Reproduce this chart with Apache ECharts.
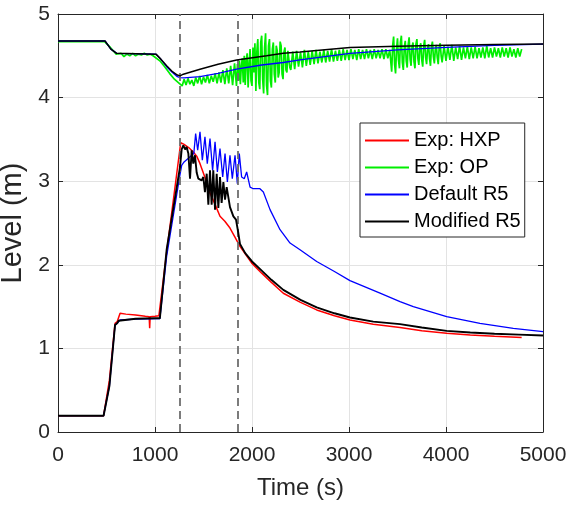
<!DOCTYPE html>
<html>
<head>
<meta charset="utf-8">
<script src="https://cdn.jsdelivr.net/npm/echarts@6/dist/echarts.min.js"></script>
<style>
html,body{margin:0;padding:0;background:#fff;}
#chart{width:571px;height:509px;}
</style>
</head>
<body>
<div id="chart"></div>
<script>
// ---- tick values ----
const xTicks = [0, 1000, 2000, 3000, 4000, 5000];
const yTicks = [0, 1, 2, 3, 4, 5];
const markerTimes = [1260, 1850];
const seriesNames = ['Exp: HXP', 'Exp: OP', 'Default R5', 'Modified R5'];

// ---- Exp: HXP (lower, red) [time s, level m] ----
const hxpLevel = [
  [0,0.195],[470,0.195],[530,0.62],[588,1.30],[610,1.32],[640,1.42],[700,1.41],[800,1.40],
  [900,1.385],[940,1.38],[945,1.24],[950,1.38],[1000,1.385],[1017,1.40],[1040,1.39],[1060,1.40],
  [1120,2.15],[1265,3.46],[1300,3.44],[1350,3.40],[1395,3.35],[1430,3.30],[1464,3.21],
  [1520,3.03],[1567,2.86],[1620,2.72],[1670,2.58],[1720,2.52],[1773,2.44],[1820,2.34],
  [1876,2.22],[1930,2.13],[1997,2.02],[2100,1.90],[2200,1.79],[2323,1.66],[2500,1.55],
  [2667,1.46],[2850,1.39],[3010,1.34],[3250,1.29],[3526,1.25],[3750,1.21],[4007,1.18],
  [4250,1.16],[4500,1.145],[4780,1.13]
];

// ---- Exp: OP (upper, green) [time s, level m] ----
const opLevel = [
  [0,4.67],[480,4.67],[540,4.60],[600,4.52],[620,4.50],[650,4.53],[680,4.49],[710,4.52],
  [740,4.50],[770,4.53],[800,4.50],[830,4.52],[860,4.51],[890,4.53],[920,4.51],[950,4.52],
  [980,4.50],[1000,4.50],[1050,4.44],[1100,4.37],[1150,4.29],[1200,4.22],[1250,4.17],[1270,4.16],
  [1280,4.14],[1300,4.22],[1320,4.15],[1340,4.23],[1360,4.16],[1380,4.21],[1400,4.14],[1420,4.24],
  [1440,4.17],[1460,4.26],[1480,4.16],[1500,4.25],[1520,4.18],[1540,4.27],[1560,4.17],[1580,4.26],
  [1600,4.19],[1620,4.29],[1640,4.17],[1660,4.30],[1680,4.18],[1700,4.33],[1720,4.16],[1740,4.35],
  [1760,4.17],[1780,4.38],[1800,4.15],[1820,4.41],[1840,4.14],[1850,4.40],[1860,4.20],[1870,4.44],
  [1880,4.16],[1890,4.38],[1900,4.47],[1910,4.18],[1920,4.50],[1930,4.15],[1940,4.45],[1950,4.53],
  [1960,4.12],[1970,4.40],[1980,4.58],[1990,4.20],[2000,4.14],[2010,4.60],[2020,4.30],[2030,4.65],
  [2040,4.08],[2050,4.55],[2060,4.70],[2070,4.18],[2080,4.10],[2090,4.66],[2100,4.74],[2110,4.22],
  [2120,4.05],[2130,4.60],[2140,4.77],[2150,4.15],[2160,4.03],[2170,4.62],[2180,4.70],[2190,4.20],
  [2200,4.12],[2210,4.58],[2220,4.66],[2230,4.28],[2240,4.18],[2250,4.62],[2260,4.56],[2270,4.24],
  [2280,4.30],[2290,4.67],[2300,4.62],[2310,4.28],[2320,4.22],[2330,4.55],[2340,4.60],[2350,4.33],
  [2360,4.30],[2370,4.56],[2380,4.54],[2390,4.36],[2400,4.33],
  [2420,4.55],[2440,4.34],[2460,4.56],[2480,4.37],[2500,4.54],[2520,4.36],[2540,4.57],
  [2560,4.38],[2580,4.55],[2600,4.39],[2620,4.56],[2640,4.40],[2660,4.57],[2680,4.41],[2700,4.55],
  [2720,4.42],[2740,4.57],[2760,4.42],[2780,4.56],[2800,4.43],[2820,4.58],[2840,4.43],[2860,4.56],
  [2880,4.44],[2900,4.57],[2920,4.44],[2940,4.58],[2960,4.45],[2980,4.57],[3000,4.45],[3020,4.58],
  [3040,4.46],[3060,4.57],[3080,4.45],[3100,4.58],[3120,4.46],[3140,4.57],[3160,4.46],[3180,4.58],
  [3200,4.47],[3220,4.57],[3240,4.46],[3260,4.58],[3280,4.47],[3300,4.57],[3320,4.47],[3340,4.58],
  [3360,4.46],[3380,4.58],[3400,4.47],[3420,4.57],
  [3440,4.31],[3450,4.62],[3460,4.73],[3470,4.40],[3480,4.29],[3490,4.58],[3500,4.71],[3510,4.45],
  [3520,4.35],[3530,4.66],[3540,4.74],[3550,4.42],[3560,4.33],[3570,4.60],[3580,4.68],[3590,4.44],
  [3600,4.36],[3610,4.63],[3620,4.72],[3630,4.46],[3640,4.38],[3650,4.61],[3660,4.66],[3670,4.43],
  [3680,4.35],[3690,4.64],[3700,4.70],[3710,4.47],[3720,4.39],[3730,4.60],[3740,4.65],[3750,4.45],
  [3760,4.37],[3770,4.62],[3780,4.69],[3790,4.48],[3800,4.40],[3810,4.59],[3820,4.64],[3830,4.47],
  [3840,4.38],[3850,4.61],[3860,4.67],[3870,4.49],[3880,4.41],[3890,4.58],[3900,4.63],[3910,4.48],
  [3920,4.40],[3930,4.60],[3940,4.65],[3950,4.50],[3960,4.42],[3980,4.62],
  [4000,4.44],[4020,4.61],[4040,4.45],[4060,4.63],[4080,4.44],[4100,4.60],[4120,4.46],[4140,4.62],
  [4160,4.45],[4180,4.60],[4200,4.47],[4220,4.61],[4240,4.46],[4260,4.60],[4280,4.47],[4300,4.61],
  [4320,4.47],[4340,4.59],[4360,4.48],[4380,4.60],[4400,4.47],[4420,4.62],[4440,4.48],[4460,4.59],
  [4480,4.48],[4500,4.60],[4520,4.49],[4540,4.59],[4560,4.48],[4580,4.60],[4600,4.49],[4620,4.59],
  [4640,4.48],[4660,4.60],[4680,4.49],[4700,4.58],[4720,4.48],[4740,4.59],[4760,4.49],[4780,4.58]
];

// ---- Default R5 (blue) ----
const defaultUpper = [
  [0,4.677],[485,4.677],[545,4.58],[605,4.53],[1010,4.52],[1060,4.46],[1120,4.37],[1180,4.30],
  [1230,4.25],[1258,4.24],[1300,4.235],[1464,4.25],[1650,4.29],[1842,4.34],[2100,4.39],
  [2323,4.42],[2495,4.45],[2750,4.49],[3010,4.53],[3500,4.57],[4007,4.60],[4500,4.625],[5000,4.64]
];
const defaultLower = [
  [0,0.195],[470,0.195],[530,0.55],[588,1.28],[610,1.30],[640,1.34],[800,1.35],[1050,1.355],
  [1120,2.10],[1258,3.08],[1275,3.19],[1300,3.23],[1350,3.28],[1400,3.33],[1419,3.57],[1440,3.37],
  [1464,3.59],[1488,3.25],[1515,3.53],[1539,3.21],[1567,3.51],[1594,3.13],[1619,3.47],[1643,3.11],
  [1670,3.39],[1698,3.05],[1722,3.33],[1746,2.99],[1773,3.31],[1797,3.03],[1825,3.31],[1849,2.97],
  [1869,3.33],[1893,3.05],[1920,3.03],[1945,3.11],[1980,2.93],[2013,2.91],[2082,2.91],[2117,2.87],
  [2186,2.66],[2289,2.42],[2392,2.26],[2495,2.18],[2667,2.04],[2850,1.92],[3010,1.81],[3320,1.66],
  [3526,1.56],[3663,1.50],[4007,1.38],[4350,1.30],[4694,1.24],[5000,1.20]
];

// ---- Modified R5 (black) ----
const modifiedUpper = [
  [0,4.677],[485,4.677],[545,4.58],[605,4.53],[1010,4.52],[1060,4.46],[1120,4.38],[1180,4.31],
  [1230,4.27],[1258,4.26],[1292,4.28],[1464,4.34],[1650,4.40],[1842,4.45],[2150,4.50],[2323,4.53],
  [2495,4.545],[3010,4.60],[3500,4.615],[4007,4.625],[4500,4.635],[5000,4.64]
];
const modifiedLower = [
  [0,0.195],[470,0.195],[530,0.55],[588,1.28],[610,1.30],[625,1.33],[640,1.35],[800,1.355],
  [1000,1.36],[1050,1.36],[1120,2.18],[1258,3.17],[1275,3.38],[1292,3.43],[1310,3.38],[1326,3.41],
  [1344,3.33],[1361,3.03],[1378,3.37],[1395,3.21],[1412,3.31],[1430,3.10],[1447,3.03],[1481,3.01],
  [1498,3.05],[1515,2.87],[1533,3.09],[1550,2.72],[1567,3.13],[1584,2.72],[1601,3.13],[1619,2.66],
  [1636,3.09],[1653,2.68],[1670,3.05],[1687,2.74],[1705,2.99],[1722,2.78],[1739,2.93],[1773,2.69],
  [1808,2.58],[1835,2.54],[1859,2.38],[1876,2.25],[1930,2.14],[2000,2.04],[2100,1.93],[2200,1.82],
  [2323,1.70],[2500,1.58],[2667,1.49],[2850,1.42],[3010,1.37],[3250,1.32],[3526,1.29],[3750,1.25],
  [4007,1.21],[4250,1.19],[4500,1.175],[4750,1.165],[5000,1.155]
];

const FONT = '"Liberation Sans", Arial, Helvetica, sans-serif';
const AX = '#262626';

function lineSeries(name, data, color, width, z) {
  return {
    name: name, type: 'line', data: data, color: color, showSymbol: false, symbol: 'none',
    lineStyle: { color: color, width: width }, z: z, silent: true,
    xAxisIndex: 0, yAxisIndex: 0
  };
}

const chart = echarts.init(document.getElementById('chart'), null, { renderer: 'canvas' });
const option = {
  animation: false,
  backgroundColor: '#fff',
  grid: { left: 58, right: 28, top: 14, bottom: 77, containLabel: false, outerBoundsMode: 'none' },
  legend: {
    data: seriesNames,
    orient: 'vertical',
    left: 360, top: 123,
    icon: 'rect', itemWidth: 44, itemHeight: 2, itemGap: 0,
    padding: [4, 4, 2, 5],
    borderColor: AX, borderWidth: 1, backgroundColor: '#fff',
    textStyle: { fontFamily: FONT, fontSize: 20, color: '#000', lineHeight: 27 },
    selectedMode: false
  },
  xAxis: [{
    type: 'value', min: xTicks[0], max: xTicks[xTicks.length - 1], interval: 1000,
    name: 'Time (s)', nameLocation: 'middle', nameGap: 44,
    nameTextStyle: { fontFamily: FONT, fontSize: 24, color: AX },
    axisLine: { show: true, onZero: false, lineStyle: { color: AX, width: 1 } },
    axisTick: { show: true, inside: true, length: 5, lineStyle: { color: AX } },
    axisLabel: { fontFamily: FONT, fontSize: 21, color: AX, margin: 13, formatter: v => String(v) },
    splitLine: { show: true, lineStyle: { color: '#e3e3e3', width: 1 } }
  }, {
    type: 'value', position: 'top', min: 0, max: 5000, interval: 1000,
    axisLine: { show: true, onZero: false, lineStyle: { color: AX, width: 1 } },
    axisTick: { show: true, inside: true, length: 5, lineStyle: { color: AX } },
    axisLabel: { show: false }, splitLine: { show: false }
  }],
  yAxis: [{
    type: 'value', min: yTicks[0], max: yTicks[yTicks.length - 1], interval: 1,
    name: 'Level (m)', nameLocation: 'middle', nameGap: 21, nameRotate: 90,
    nameTextStyle: { fontFamily: FONT, fontSize: 29, color: AX },
    axisLine: { show: true, onZero: false, lineStyle: { color: AX, width: 1 } },
    axisTick: { show: true, inside: true, length: 5, lineStyle: { color: AX } },
    axisLabel: { fontFamily: FONT, fontSize: 21, color: AX, margin: 8, formatter: v => String(v) },
    splitLine: { show: true, lineStyle: { color: '#e3e3e3', width: 1 } }
  }, {
    type: 'value', position: 'right', min: 0, max: 5, interval: 1,
    axisLine: { show: true, onZero: false, lineStyle: { color: AX, width: 1 } },
    axisTick: { show: true, inside: true, length: 5, lineStyle: { color: AX } },
    axisLabel: { show: false }, splitLine: { show: false }
  }],
  series: [
    {
      name: 'markers', type: 'line', data: [], xAxisIndex: 0, yAxisIndex: 0, z: 1, silent: true,
      markLine: {
        silent: true, symbol: 'none', animation: false,
        label: { show: false },
        lineStyle: { color: '#6e6e6e', width: 1.8, type: [8, 5] },
        data: markerTimes.map(t => ({ xAxis: t }))
      }
    },
    lineSeries('Exp: HXP', hxpLevel, '#ff0000', 1.5, 2),
    lineSeries('Exp: OP', opLevel, '#00ee00', 1.7, 3),
    lineSeries('Default R5', defaultUpper, '#0000ff', 1.3, 4),
    lineSeries('Default R5', defaultLower, '#0000ff', 1.3, 4),
    lineSeries('Modified R5', modifiedUpper, '#000000', 1.5, 5),
    lineSeries('Modified R5', modifiedLower, '#000000', 1.9, 5)
  ]
};
chart.setOption(option);
</script>
</body>
</html>
